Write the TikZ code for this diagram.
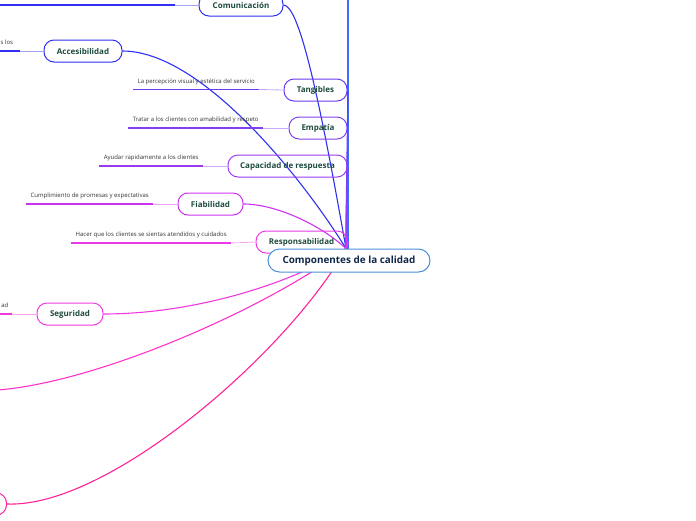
\documentclass[tikz,border=0pt]{standalone}
\usepackage{fontspec}
\setmainfont{Open Sans}
\usetikzlibrary{backgrounds}
\definecolor{txtgreen}{HTML}{1D4A3F}
\definecolor{txtnavy}{HTML}{10284A}
\definecolor{txtgray}{HTML}{333333}
\definecolor{ctrc}{HTML}{4A90D9}
\definecolor{topc}{HTML}{3A6CFF}
\definecolor{brblue}{HTML}{3030F0}
\definecolor{tanc}{HTML}{6A3AF0}
\definecolor{empc}{HTML}{8040F0}
\definecolor{capc}{HTML}{9A3AF0}
\definecolor{fiac}{HTML}{CC33F0}
\definecolor{resc}{HTML}{E83AE6}
\definecolor{segc}{HTML}{F03AE0}
\definecolor{lftc}{HTML}{FF33CC}
\definecolor{botc}{HTML}{FF2299}
\begin{document}
\begin{tikzpicture}[x=1pt,y=-1pt,
  branch/.style={draw=#1,line width=1pt,rounded corners=10pt,minimum height=22pt,inner xsep=5pt,
    font=\fontsize{8}{9}\selectfont\bfseries,text=txtgreen},
  desc/.style={minimum width=#1,inner xsep=3pt,inner ysep=0pt,text height=4pt,text depth=6pt,
    font=\fontsize{6}{7}\selectfont,text=txtgray,anchor=south west},
  ul/.style={line width=1.8pt,draw=#1},
  tie/.style={line width=0.8pt,draw=#1!45},
  link/.style={line width=1.1pt,draw=#1}]
\useasboundingbox (0,0) rectangle (696,520);
\clip (0,0) rectangle (696,520);
% branches
\node[branch=brblue,minimum width=84pt] (com) at (241,5) {Comunicación};
\node[branch=brblue,minimum width=78pt] (acc) at (83,51) {Accesibilidad};
\node[branch=tanc,minimum width=63pt] (tan) at (315.5,90) {Tangibles};
\node[branch=empc,minimum width=58pt] (emp) at (318,128) {Empatía};
\node[branch=capc,minimum width=119pt] (cap) at (287.5,166) {Capacidad de respuesta};
\node[branch=fiac,minimum width=65pt] (fia) at (210.5,204) {Fiabilidad};
\node[branch=resc,minimum width=91pt] (res) at (301.5,242) {Responsabilidad};
\node[branch=segc,minimum width=66pt] (seg) at (70,314) {Seguridad};
\node[branch=botc,minimum width=40pt,anchor=east] (bot) at (7,504) {};
% descriptions
\coordinate (comd0) at (-5,5);
\coordinate (comd) at (175,5);
\node[desc=26pt,anchor=south east] (accd) at (20,51) {s los};
\node[desc=126pt] (tand) at (133,89.5) {La percepción visual y estética del servicio};
\node[desc=135pt] (empd) at (128,128) {Tratar a los clientes con amabilidad y respeto};
\node[desc=104pt] (capd) at (99,166) {Ayudar rapidamente a los clientes};
\node[desc=127pt] (fiad) at (26,204) {Cumplimiento de promesas y expectativas};
\node[desc=160pt] (resd) at (71,243) {Hacer que los clientes se sientas atendidos y cuidados};
\node[desc=14pt,anchor=south east] (segd) at (12,314) {ad};
\draw[ul=brblue] (comd0) -- (comd);
\draw[tie=brblue] (comd) -- (com.west);
\foreach \dd/\nn/\col in {accd/acc/brblue,tand/tan/tanc,empd/emp/empc,capd/cap/capc,
    fiad/fia/fiac,resd/res/resc,segd/seg/segc}{
  \draw[ul=\col] (\dd.south west) -- (\dd.south east);
  \draw[tie=\col] (\dd.south east) -- (\nn.west);
}
% central topic
\node[draw=ctrc,line width=1pt,fill=white,rounded corners=11.5pt,minimum width=162pt,minimum height=23pt,
  font=\fontsize{9.9}{11}\selectfont\bfseries,text=txtnavy] (ctr) at (349,260.5) {Componentes de la calidad};
\coordinate (hub) at ([xshift=-3pt]ctr.north);
\coordinate (up) at (348,-3);
\coordinate (lft) at (-2,390);
\begin{scope}[on background layer]
\draw[link=topc] ([xshift=-1pt]ctr.north) -- (up);
\draw[link=brblue] (com.east) .. controls +(15,0) and +(-28,-159) .. (hub);
\draw[link=brblue] (acc.east) .. controls +(78,0) and +(-46,-74) .. (hub);
\draw[link=tanc] (tan.east) .. controls +(1,0) and +(0,-60) .. (hub);
\draw[link=empc] (emp.east) .. controls +(1,0) and +(0,-50) .. (hub);
\draw[link=capc] (cap.east) .. controls +(1,0) and +(0,-40) .. (hub);
\draw[link=fiac] (fia.east) .. controls +(32,0) and +(-26,-24) .. (hub);
\draw[link=resc] (res.east) .. controls +(2,0) and +(0,-3) .. (hub);
\draw[link=segc] (seg.east) .. controls +(97,0) and +(-46,31) .. (hub);
\draw[link=lftc] (lft) .. controls +(100,-8) and +(-81,61) .. (hub);
\draw[link=botc] (bot.east) .. controls +(103,4) and +(-56,101) .. (hub);
\end{scope}
\end{tikzpicture}
\end{document}
